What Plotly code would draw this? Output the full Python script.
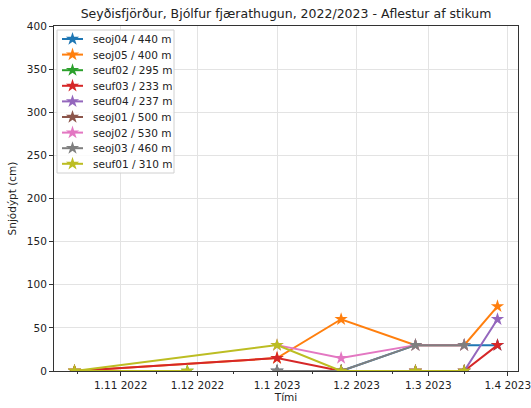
import plotly.graph_objects as go

# Snow stake readings, Seyðisfjörður – Bjólfur, winter 2022/2023
stations = [
    "seoj04 / 440 m", "seoj05 / 400 m", "seuf02 / 295 m", "seuf03 / 233 m",
    "seuf04 / 237 m", "seoj01 / 500 m", "seoj02 / 530 m", "seoj03 / 460 m",
    "seuf01 / 310 m",
]

seoj04_dates = ["2023-01-01", "2023-01-26", "2023-02-24", "2023-03-15", "2023-03-28"]
seoj04_depth = [0, 0, 30, 30, 30]

seoj05_dates = ["2022-10-14", "2023-01-01", "2023-01-26", "2023-02-24", "2023-03-15", "2023-03-28"]
seoj05_depth = [0, 15, 60, 30, 30, 75]

seuf02_dates = ["2022-10-14", "2022-11-27"]
seuf02_depth = [0, 0]

seuf03_dates = ["2022-10-14", "2023-01-01", "2023-01-26", "2023-02-24", "2023-03-15", "2023-03-28"]
seuf03_depth = [0, 15, 0, 0, 0, 30]

seuf04_dates = ["2023-01-26", "2023-02-24", "2023-03-15", "2023-03-28"]
seuf04_depth = [0, 0, 0, 60]

seoj01_dates = ["2023-01-01", "2023-01-26", "2023-02-24", "2023-03-15"]
seoj01_depth = [0, 0, 0, 0]

seoj02_dates = ["2023-01-01", "2023-01-26", "2023-02-24", "2023-03-15"]
seoj02_depth = [30, 15, 30, 30]

seoj03_dates = ["2023-01-01", "2023-01-26", "2023-02-24", "2023-03-15"]
seoj03_depth = [0, 0, 30, 30]

# readings kept in the order they were logged
seuf01_dates = ["2022-11-27", "2022-10-14", "2023-01-01", "2023-01-26", "2023-02-24", "2023-03-15"]
seuf01_depth = [0, 0, 30, 0, 0, 0]

series_dates = [seoj04_dates, seoj05_dates, seuf02_dates, seuf03_dates, seuf04_dates,
                seoj01_dates, seoj02_dates, seoj03_dates, seuf01_dates]
series_depth = [seoj04_depth, seoj05_depth, seuf02_depth, seuf03_depth, seuf04_depth,
                seoj01_depth, seoj02_depth, seoj03_depth, seuf01_depth]

colors = ["#1f77b4", "#ff7f0e", "#2ca02c", "#d62728", "#9467bd",
          "#8c564b", "#e377c2", "#7f7f7f", "#bcbd22"]

month_ticks = ["2022-11-01", "2022-12-01", "2023-01-01", "2023-02-01", "2023-03-01", "2023-04-01"]
month_labels = ["1.11 2022", "1.12 2022", "1.1 2023", "1.2 2023", "1.3 2023", "1.4 2023"]
mid_ticks = ["2022-10-15", "2022-11-15", "2022-12-15", "2023-01-15", "2023-02-15", "2023-03-15"]

FONT = "DejaVu Sans"
TXT = "#222222"
LW = 2
W, H = 531, 408
ML, MR, MT, MB = 54, 13, 26, 37
PW, PH = W - ML - MR, H - MT - MB

fig = go.Figure()
for name, d, v, c in zip(stations, series_dates, series_depth, colors):
    fig.add_trace(go.Scatter(
        x=d, y=v, name=name, mode="lines+markers", showlegend=False,
        line=dict(color=c, width=LW),
        marker=dict(symbol="star", size=10, color=c, line=dict(width=0)),
    ))

# Compact legend drawn on an overlay axis measured in pixels from the plot's top-left
LX0, LY0 = 3, 4          # box corner
LBW, LBH = 117, 143      # box size
ROW = 15.6               # row spacing
SAMPLE_X = (8, 29)       # line sample span
TEXT_X = 37
FIRST_ROW = 9

fig.add_trace(go.Scatter(
    x=[LX0, LX0 + LBW, LX0 + LBW, LX0, LX0], y=[LY0, LY0, LY0 + LBH, LY0 + LBH, LY0],
    xaxis="x2", yaxis="y2", mode="lines", fill="toself",
    fillcolor="rgba(255,255,255,0.85)", line=dict(color="#d0d0d0", width=1),
    showlegend=False, hoverinfo="skip",
))
for i, (name, c) in enumerate(zip(stations, colors)):
    ry = LY0 + FIRST_ROW + i * ROW
    fig.add_trace(go.Scatter(
        x=[SAMPLE_X[0], SAMPLE_X[1]], y=[ry, ry], xaxis="x2", yaxis="y2",
        mode="lines", line=dict(color=c, width=LW), showlegend=False, hoverinfo="skip",
    ))
    fig.add_trace(go.Scatter(
        x=[(SAMPLE_X[0] + SAMPLE_X[1]) / 2], y=[ry], xaxis="x2", yaxis="y2",
        mode="markers", marker=dict(symbol="star", size=10, color=c, line=dict(width=0)),
        showlegend=False, hoverinfo="skip",
    ))
    fig.add_annotation(
        x=TEXT_X, y=ry, xref="x2", yref="y2", text=name, showarrow=False,
        xanchor="left", yanchor="middle",
        font=dict(family=FONT, size=10.5, color=TXT),
    )

axis_common = dict(
    showline=True, linecolor="#333333", linewidth=1, mirror=True,
    ticks="outside", ticklen=4, tickcolor="#333333",
    showgrid=True, gridcolor="#e3e3e3", gridwidth=1,
    zeroline=False, automargin=False,
    tickfont=dict(family=FONT, size=10.5, color=TXT),
)

fig.update_layout(
    width=W, height=H,
    margin=dict(l=ML, r=MR, t=MT, b=MB),
    paper_bgcolor="white", plot_bgcolor="white",
    font=dict(family=FONT, color=TXT),
    title=dict(
        text="Seyðisfjörður, Bjólfur fjærathugun, 2022/2023 - Aflestur af stikum",
        xref="paper", x=0.5, xanchor="center", y=0.966, yanchor="middle",
        font=dict(family=FONT, size=12.5, color=TXT),
    ),
    xaxis=dict(
        axis_common,
        range=["2022-10-06", "2023-04-05"],
        tickmode="array", tickvals=month_ticks, ticktext=month_labels,
        ticklabeloverflow="allow",
        minor=dict(tickmode="array", tickvals=mid_ticks, ticks="outside",
                   ticklen=2, tickcolor="#333333", showgrid=False),
        title=dict(text="Tími", font=dict(family=FONT, size=10.5), standoff=3),
    ),
    yaxis=dict(
        axis_common,
        range=[0, 400], tickmode="array", tickvals=list(range(0, 401, 50)),
        title=dict(text="Snjódýpt (cm)", font=dict(family=FONT, size=10.5), standoff=8),
    ),
    xaxis2=dict(overlaying="x", anchor="y2", range=[0, PW], visible=False, fixedrange=True),
    yaxis2=dict(overlaying="y", anchor="x2", range=[PH, 0], visible=False, fixedrange=True),
    showlegend=False,
)

fig.write_html("out.html")
